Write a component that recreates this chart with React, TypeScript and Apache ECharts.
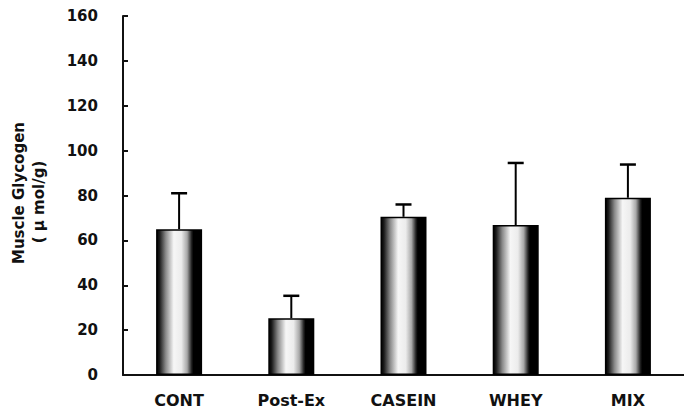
import React, { useEffect, useRef } from "react";
import * as echarts from "echarts";

const categories = ["CONT", "Post-Ex", "CASEIN", "WHEY", "MIX"];
const means = [65, 25.3, 70.5, 66.8, 79];
const upperErrors = [16, 10, 5.5, 27.7, 14.8];
const yTicks = { min: 0, max: 160, interval: 20 };

const FONT = "'DejaVu Sans', sans-serif";
const INK = "#111";

export default function App() {
  const ref = useRef<HTMLDivElement>(null);
  useEffect(() => {
    if (!ref.current) return;
    const chart = echarts.init(ref.current, undefined, { renderer: "svg" });
    const barGradient = new echarts.graphic.LinearGradient(0, 0, 1, 0, [
      { offset: 0, color: "#000" },
      { offset: 0.06, color: "#1a1a1a" },
      { offset: 0.2, color: "#8a8a8a" },
      { offset: 0.38, color: "#f6f6f6" },
      { offset: 0.55, color: "#ececec" },
      { offset: 0.68, color: "#a8a8a8" },
      { offset: 0.78, color: "#222" },
      { offset: 0.82, color: "#000" },
      { offset: 1, color: "#000" },
    ]);
    const errData = means.map((m, i) => [i, m, m + upperErrors[i]]);
    chart.setOption({
      animation: false,
      backgroundColor: "#fff",
      grid: { left: 123, right: -7, top: 16, bottom: 40, containLabel: false },
      graphic: [
        {
          type: "text",
          x: 19,
          y: 193,
          rotation: Math.PI / 2,
          style: {
            text: "Muscle Glycogen",
            font: `bold 15px ${FONT}`,
            fill: INK,
            textAlign: "center",
            textVerticalAlign: "middle",
          },
        },
        {
          type: "text",
          x: 39,
          y: 202,
          rotation: Math.PI / 2,
          style: {
            text: "( μ mol/g)",
            font: `bold 15px ${FONT}`,
            fill: INK,
            textAlign: "center",
            textVerticalAlign: "middle",
          },
        },
      ],
      xAxis: {
        type: "category",
        data: categories,
        axisLine: { lineStyle: { color: INK, width: 2 } },
        axisTick: { inside: true, length: 4, lineStyle: { color: INK, width: 1.5 } },
        axisLabel: {
          color: INK,
          fontFamily: FONT,
          fontWeight: "bold",
          fontSize: 16,
          margin: 17,
        },
        splitLine: { show: false },
      },
      yAxis: {
        type: "value",
        min: yTicks.min,
        max: yTicks.max,
        interval: yTicks.interval,
        axisLine: { show: true, lineStyle: { color: INK, width: 2 } },
        axisTick: { show: true, inside: true, length: 5, lineStyle: { color: INK, width: 2 } },
        axisLabel: {
          color: INK,
          fontFamily: FONT,
          fontWeight: "bold",
          fontSize: 15,
          margin: 25,
        },
        splitLine: { show: false },
      },
      series: [
        {
          type: "bar",
          data: means,
          barWidth: 46,
          itemStyle: { color: barGradient, borderColor: "#000", borderWidth: 1.5 },
          z: 2,
        },
        {
          type: "custom",
          data: errData,
          z: 3,
          renderItem: (params: any, api: any) => {
            const base = api.coord([api.value(0), api.value(1)]);
            const top = api.coord([api.value(0), api.value(2)]);
            const half = 8;
            return {
              type: "group",
              children: [
                {
                  type: "line",
                  shape: { x1: base[0], y1: base[1], x2: top[0], y2: top[1] },
                  style: { stroke: "#000", lineWidth: 2 },
                },
                {
                  type: "line",
                  shape: { x1: top[0] - half, y1: top[1], x2: top[0] + half, y2: top[1] },
                  style: { stroke: "#000", lineWidth: 2.5 },
                },
              ],
            };
          },
        },
      ],
    });
    return () => chart.dispose();
  }, []);
  return (
    <div
      ref={ref}
      style={{ position: "fixed", left: 0, top: 0, width: 684, height: 415, background: "#fff" }}
    />
  );
}
